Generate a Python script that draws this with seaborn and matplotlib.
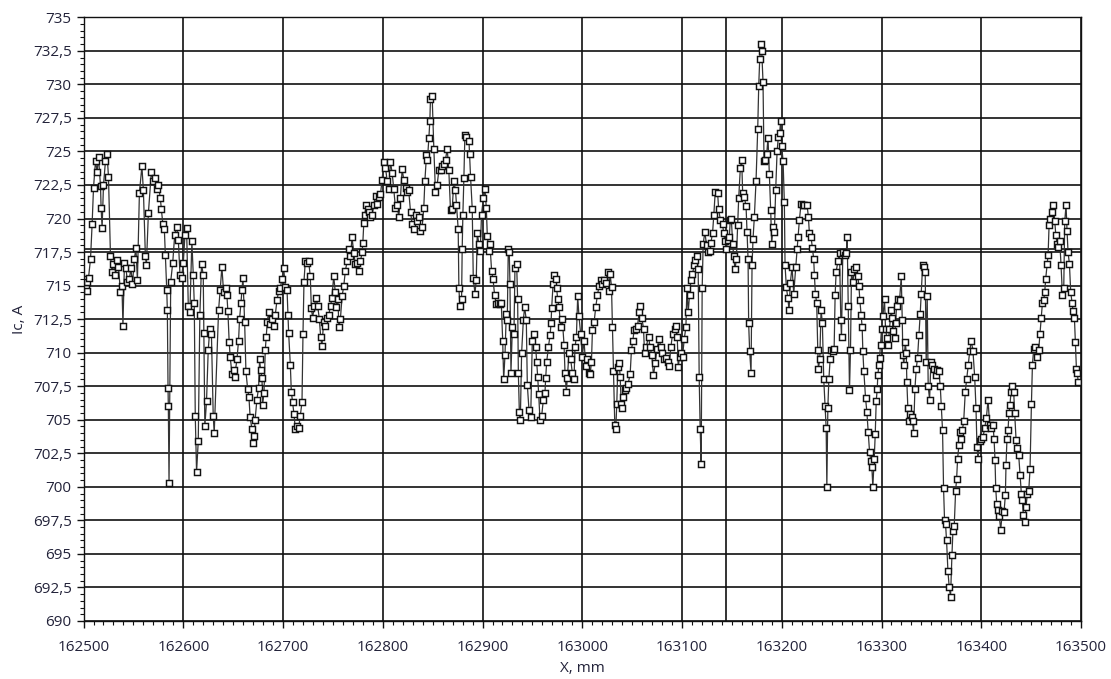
import numpy as np
import pandas as pd
import matplotlib
matplotlib.use("Agg")
import matplotlib.pyplot as plt
import seaborn as sns
from matplotlib.ticker import MultipleLocator, FuncFormatter

# positions along the tape (mm) and critical current (A)
x_seg1 = [162501, 162502, 162503, 162503.7, 162505, 162507, 162508.6, 162510, 162512, 162513.6,
          162515, 162517, 162517.6, 162518.6, 162520, 162522, 162523.6, 162525, 162527, 162528.6,
          162530, 162532, 162533.6, 162535, 162537, 162538.5, 162539.5, 162541, 162542.5, 162544,
          162546, 162547.5, 162549, 162551, 162552.5, 162554, 162556, 162558.5, 162560, 162562,
          162563, 162565, 162568, 162570, 162572, 162573.5, 162575, 162577, 162578, 162579.5,
          162581, 162582, 162583.4, 162584, 162584.7, 162585, 162585.7, 162587.4, 162589.4, 162591.4,
          162593.3, 162595, 162596.7, 162598.3, 162600, 162601.7, 162603.3, 162605, 162606.6, 162608.6,
          162610, 162611, 162612, 162613.3, 162615, 162616.6, 162618.3, 162620, 162620.6, 162621.6,
          162623.3, 162625, 162626.6, 162628.2, 162630, 162631]
ic_seg1 = [715.5, 714.8, 715.3, 714.6, 715.6, 717.0, 719.6, 722.3, 724.3, 723.5,
           724.6, 722.4, 720.8, 719.3, 722.5, 724.3, 724.8, 723.1, 717.2, 716.0,
           716.6, 715.8, 716.9, 716.4, 714.5, 715.0, 712.0, 716.7, 716.3, 715.3,
           715.5, 716.3, 715.1, 717.0, 717.8, 715.4, 721.9, 723.9, 722.1, 717.2,
           716.5, 720.4, 723.5, 722.8, 723.0, 722.2, 722.5, 721.5, 720.7, 719.6,
           719.2, 717.3, 714.7, 713.2, 707.4, 706.0, 700.3, 715.3, 716.7, 718.8,
           719.4, 718.4, 715.8, 715.6, 716.7, 718.8, 719.3, 713.5, 713.0, 718.3,
           715.8, 713.7, 705.3, 701.1, 703.4, 712.8, 716.6, 715.8, 711.5, 704.5,
           706.4, 710.2, 711.8, 711.4, 705.3, 704.0]

x_seg2 = [162635.4, 162637, 162638.7, 162640.4, 162642.7, 162643.7, 162644.7, 162646, 162647, 162648.8,
          162650.4, 162651.4, 162653.8, 162655.4, 162656.4, 162657.8, 162658.8, 162659.8, 162661.5, 162662.8,
          162664.5, 162665.8, 162667, 162668.8, 162669.8, 162671, 162672, 162673.8, 162675.5, 162676.5,
          162677.5, 162678.9, 162679.5, 162680.9, 162682.2, 162683.2, 162684.2, 162685.5, 162687.2, 162688.9,
          162690.6, 162692.2, 162693.9, 162695.6, 162697.2, 162698.9, 162700.6, 162702.3, 162704, 162705,
          162705.6, 162707.3, 162708.3, 162709.6, 162711, 162712.3, 162714, 162715.6, 162717.3, 162719,
          162720, 162721, 162722.3, 162724, 162725.7, 162727.3, 162728.4, 162729.7, 162731.4, 162733,
          162734.7, 162736.4, 162737.7, 162739, 162740.7, 162742.4, 162744, 162745.7, 162747.7, 162749,
          162750.8, 162752.4]
ic_seg2 = [713.2, 714.7, 716.4, 714.5, 714.8, 714.3, 713.1, 710.8, 709.7, 708.4,
           708.7, 708.2, 709.5, 710.9, 712.5, 713.7, 714.7, 715.6, 712.3, 708.6,
           707.3, 706.7, 705.2, 704.3, 703.3, 703.8, 705.0, 706.5, 707.4, 709.5,
           708.7, 708.1, 706.1, 707.0, 710.2, 711.2, 712.3, 713.0, 712.1, 712.5,
           712.0, 712.8, 713.9, 714.6, 714.8, 715.5, 716.3, 714.9, 714.7, 712.8,
           711.5, 709.1, 707.1, 706.3, 705.4, 704.3, 704.5, 704.4, 705.3, 706.3,
           711.4, 715.3, 716.8, 716.7, 716.8, 715.7, 713.3, 712.6, 713.5, 714.1,
           713.5, 712.5, 711.2, 710.5, 712.3, 712.0, 712.6, 712.8, 713.5, 714.1,
           715.7, 714.5]

x_seg3 = [162753.5, 162755, 162756, 162757.5, 162759.2, 162760.9, 162762.5, 162764.2, 162765.9, 162767.6,
          162769.2, 162770.9, 162772.6, 162774.3, 162775.9, 162777.6, 162779.3, 162780, 162781, 162782,
          162783.6, 162785, 162786, 162787.6, 162789.3, 162791, 162792.7, 162794.3, 162796, 162797.7,
          162799.3, 162801, 162802.7, 162804.4, 162806, 162807.7, 162809.4, 162811, 162812.7, 162814.4,
          162816, 162817.7, 162819.4, 162821, 162822.8, 162824.4, 162826, 162827.8, 162829.4, 162831,
          162832.8, 162834.5, 162836, 162837.8, 162839.5, 162841.1, 162842.2, 162843.8, 162844.8, 162846.2,
          162847.2, 162847.8, 162849.5, 162851.2, 162852.8, 162854.5, 162856.2, 162857.9, 162859.5, 162861.2,
          162862.9, 162864.6, 162866.2, 162867.9, 162869.6, 162871.2, 162872.9, 162873.9, 162875.6, 162876.3,
          162877.3, 162879, 162879.6, 162880.3, 162881.3, 162882.3]
ic_seg3 = [713.4, 714.0, 711.9, 712.5, 714.2, 715.0, 716.1, 716.8, 717.7, 717.2,
           718.6, 717.4, 716.6, 716.7, 716.1, 716.8, 717.5, 718.2, 719.7, 720.3,
           721.0, 720.7, 720.5, 720.1, 720.3, 721.0, 721.7, 721.1, 721.6, 721.8,
           722.9, 724.2, 723.8, 722.8, 722.2, 724.2, 723.4, 722.2, 720.8, 721.0,
           720.1, 721.5, 723.7, 722.9, 722.3, 722.0, 722.1, 720.5, 719.6, 719.2,
           720.3, 719.8, 720.1, 719.1, 719.4, 720.8, 722.8, 724.7, 724.4, 726.0,
           727.3, 728.9, 729.1, 725.2, 722.0, 722.5, 723.6, 723.6, 723.9, 724.1,
           724.4, 725.2, 723.6, 720.6, 720.7, 722.8, 722.1, 721.0, 719.2, 714.8,
           713.5, 714.0, 717.7, 720.3, 723.0, 726.2]

x_seg4 = [162883.7, 162886.4, 162887, 162888, 162889.7, 162890.7, 162892.4, 162893.7, 162894.7, 162896.4,
          162897.7, 162899, 162900.8, 162902.4, 162903.8, 162904.8, 162906.4, 162907.4, 162909.1, 162910.5,
          162912.1, 162913.8, 162915.5, 162917.1, 162918.8, 162920.2, 162921.2, 162922.5, 162923.8, 162924.8,
          162925.8, 162926.8, 162927.5, 162928.5, 162929.9, 162931.5, 162932.5, 162934.2, 162935.2, 162935.9,
          162936.9, 162937.9, 162939.2, 162940.9, 162942.2, 162943.9, 162944.9, 162946.6, 162948.3, 162949.9,
          162951.6, 162953.3, 162954.3, 162955.3, 162956.3, 162957.6, 162959.3, 162961, 162962.6, 162963.3,
          162964.3, 162966, 162967.7, 162968.7, 162969.3, 162970.7, 162972, 162973.3, 162974.3, 162975.3,
          162976.7, 162978.4, 162980, 162981.7, 162982.7, 162984, 162985, 162986.7, 162988.4, 162990,
          162991.7, 162992.7, 162994.1, 162995.4, 162996.7, 162998.4, 163000, 163001.8, 163003.4, 163005.1,
          163006.8]
ic_seg4 = [726.1, 725.8, 724.8, 723.1, 720.7, 715.6, 714.4, 715.4, 718.9, 718.1,
           717.6, 720.3, 721.5, 722.2, 720.8, 718.7, 717.6, 718.1, 716.1, 715.5,
           714.3, 713.6, 713.7, 713.6, 713.7, 710.9, 708.0, 709.8, 712.9, 712.4,
           717.7, 717.5, 715.1, 708.5, 711.9, 711.4, 716.3, 716.6, 714.0, 708.5,
           705.6, 705.0, 710.0, 712.4, 713.4, 712.4, 707.6, 705.7, 705.2, 710.9,
           711.4, 710.4, 709.3, 708.2, 706.9, 705.0, 705.3, 706.5, 707.0, 708.1,
           709.3, 710.4, 711.3, 712.2, 713.3, 715.1, 715.8, 715.5, 714.8, 714.0,
           713.4, 711.9, 712.5, 710.6, 708.5, 707.1, 708.1, 710.0, 709.5, 708.5,
           708.0, 710.4, 711.2, 714.2, 712.7, 711.4, 709.7, 710.9, 709.0, 709.5,
           708.5]

x_seg5 = [163007.9, 163009.2, 163010.2, 163011.9, 163013.5, 163015.2, 163016.9, 163018.6, 163020.2, 163021.9,
          163023.6, 163025.3, 163026.6, 163027.9, 163029.3, 163030.3, 163031.3, 163032.6, 163033.6, 163034.6,
          163035.6, 163037, 163038, 163039, 163040.3, 163041.3, 163042.6, 163044.3, 163046, 163048,
          163049.3, 163050.7, 163052, 163053.7, 163055.4, 163057, 163058, 163059.7, 163061.4, 163062.4,
          163064, 163066.4, 163068, 163069.7, 163071.4, 163073.1, 163074.8, 163077.1, 163078.8, 163080.4,
          163082.1, 163083.8, 163085.5, 163087.1, 163088.8, 163090.5, 163092.5, 163094.2, 163095.2, 163096.2,
          163097.5, 163098.8, 163100.5, 163102.2, 163103.9, 163104.9, 163106.2, 163107.5, 163108.9, 163110.5,
          163112.2, 163113.5, 163114.9, 163116.2, 163117.2, 163118.2, 163119.2, 163120.2, 163121.2, 163122.9,
          163124.6, 163125.9, 163127.6, 163128.9, 163130.6, 163131.9, 163133.3]
ic_seg5 = [708.4, 709.3, 711.7, 712.3, 713.4, 714.3, 715.0, 715.4, 715.1, 715.4,
           715.2, 716.0, 714.6, 715.9, 714.9, 711.9, 708.6, 704.6, 704.3, 706.2,
           708.9, 709.2, 708.2, 706.2, 705.9, 706.7, 707.2, 707.4, 707.7, 708.4,
           710.2, 710.9, 711.7, 711.8, 712.0, 713.0, 713.5, 712.6, 711.8, 710.0,
           710.4, 711.2, 710.4, 709.8, 708.3, 709.2, 710.3, 711.0, 710.4, 710.0,
           709.5, 709.6, 709.3, 709.0, 710.4, 711.4, 711.8, 712.0, 711.2, 708.9,
           709.7, 710.0, 709.7, 711.0, 711.9, 714.8, 713.0, 714.3, 715.4, 715.9,
           716.5, 716.9, 717.2, 716.2, 708.2, 704.3, 701.7, 714.8, 718.1, 719.0,
           718.0, 717.5, 717.6, 718.2, 718.9, 720.3, 722.0]

x_seg6 = [163135.7, 163136.7, 163138.4, 163140.7, 163141.7, 163143.1, 163144.4, 163145.8, 163147.4, 163148.4,
          163149.4, 163150.8, 163151.8, 163153.1, 163154.5, 163155.8, 163156.8, 163158.5, 163159.8, 163160.8,
          163162.5, 163164.2, 163165.2, 163166.2, 163166.8, 163167.8, 163169.2, 163170.2, 163171.2, 163172.5,
          163174.2, 163175.9, 163176.9, 163177.9, 163178.9, 163179.9, 163181.2, 163182.2, 163183.5, 163184.9,
          163186.2, 163187.6, 163188.9, 163189.9, 163191.2, 163192.6, 163193.9, 163195.3, 163196.6, 163197.9,
          163198.9, 163199.9, 163201.3, 163202.6, 163203.3, 163204.6, 163206, 163207.3, 163208.6, 163210.3,
          163212, 163214, 163215.3, 163216.3, 163217.7, 163219.3, 163221, 163222.7, 163225.4, 163226.7,
          163227.7, 163229.4, 163230.7, 163232, 163232.7, 163233.7, 163235, 163236.1, 163236.7, 163238.1,
          163239.4, 163240.7, 163242.1, 163243.4]
ic_seg6 = [721.9, 720.7, 719.9, 719.6, 718.9, 718.3, 717.7, 718.4, 718.6, 719.9,
           720.0, 718.1, 717.2, 716.2, 717.0, 719.5, 721.5, 723.8, 724.4, 721.9,
           721.6, 720.9, 719.0, 717.0, 712.2, 710.1, 708.5, 716.5, 718.5, 720.1,
           722.8, 726.7, 729.9, 731.9, 733.0, 732.5, 730.2, 724.3, 724.4, 724.8,
           726.0, 723.3, 720.6, 718.1, 719.4, 719.0, 722.1, 725.0, 726.1, 726.4,
           727.3, 725.4, 724.3, 721.2, 716.5, 714.9, 714.1, 713.2, 715.2, 716.4,
           714.4, 716.4, 717.7, 718.6, 719.9, 721.1, 721.0, 721.0, 721.0, 720.1,
           718.9, 718.6, 717.8, 717.0, 715.8, 714.4, 713.7, 710.2, 708.8, 709.5,
           713.2, 712.2, 708.0, 706.0]

x_seg7 = [163244.5, 163245.2, 163246.2, 163247.2, 163248.5, 163249.5, 163251.2, 163252.5, 163253.5, 163254.5,
          163256.2, 163257.9, 163259.2, 163259.9, 163261.2, 163262.9, 163264.6, 163265.6, 163266.6, 163267.9,
          163268.9, 163269.9, 163271.3, 163272.9, 163274.6, 163276.3, 163277.3, 163278.3, 163279.6, 163280.6,
          163281.3, 163282.3, 163284, 163285.3, 163286.6, 163288, 163289.3, 163290.3, 163291.3, 163292.7,
          163293.7, 163294.7, 163295.7, 163296.3, 163297.3, 163298, 163299, 163300, 163301.4, 163303,
          163304, 163305.4, 163306.7, 163308, 163309.7, 163310.7, 163311.7, 163313.1, 163314.1, 163315.1,
          163316.4, 163318.1, 163319.8, 163320.8, 163321.4, 163322.4, 163323.8, 163324.8, 163325.4, 163326.4,
          163327.4, 163328.8, 163330.1, 163331.1, 163332.1, 163333.5, 163334.8, 163336.1, 163337.5, 163338.8,
          163339.8, 163341.2, 163342.5, 163343.8, 163344.8, 163345.8, 163346.8, 163348.2, 163349.5, 163350.9,
          163352.5, 163354.2, 163355.9, 163357.5, 163358.9, 163359.9, 163361.2, 163362.2, 163363.2, 163364.2,
          163365.2, 163366.6, 163367.9, 163369.2, 163370.6, 163371.6, 163372.9, 163374.3, 163375.3, 163376.3,
          163377.6, 163378.6]
ic_seg7 = [704.4, 700.0, 705.9, 708.0, 709.5, 710.2, 710.1, 710.3, 714.3, 716.0,
           716.8, 717.4, 712.4, 711.2, 717.5, 717.3, 717.4, 718.6, 713.5, 707.2,
           710.2, 716.0, 715.3, 716.2, 716.4, 715.7, 715.0, 713.9, 712.8, 711.9,
           710.1, 708.6, 706.6, 705.6, 704.1, 702.6, 701.9, 701.5, 700.0, 702.1,
           703.9, 706.4, 707.3, 708.3, 709.1, 709.6, 710.6, 711.8, 712.7, 714.0,
           711.8, 711.1, 710.6, 711.8, 713.2, 712.6, 711.6, 711.1, 712.2, 713.5,
           714.0, 713.9, 715.7, 712.4, 709.8, 709.1, 710.8, 710.0, 707.8, 705.9,
           704.9, 705.4, 705.2, 704.9, 704.0, 707.3, 708.8, 709.6, 711.3, 712.9,
           714.4, 716.5, 716.4, 716.0, 709.3, 714.2, 707.5, 706.5, 709.3, 709.1,
           708.8, 708.3, 708.7, 708.6, 707.5, 706.0, 704.2, 699.9, 697.5, 697.2,
           696.0, 693.7, 692.5, 691.8, 694.9, 696.7, 697.1, 699.7, 700.6, 702.1,
           703.1, 704.1]

x_seg8 = [163380, 163381, 163382.4, 163384, 163385.4, 163387, 163388.4, 163390, 163391.7, 163393.4,
          163394.7, 163395.7, 163396.7, 163398.4, 163400.1, 163401.8, 163403.4, 163405.1, 163406.8, 163408.4,
          163410.1, 163411.8, 163412.8, 163413.8, 163414.5, 163415.5, 163416.8, 163418.1, 163419.5, 163421.2,
          163422.8, 163424.2, 163424.8, 163425.8, 163426.8, 163427.8, 163428.8, 163429.8, 163431.2, 163432.5,
          163433.5, 163434.9, 163436.2, 163437.5, 163438.9, 163440.2, 163441.2, 163442.2, 163443.6, 163444.9,
          163446.2, 163447.6, 163448.9, 163450.3, 163451.3, 163452.6, 163454.3, 163455.9, 163457.6, 163458.9,
          163460.3, 163461.3, 163462.6, 163463.6, 163464.6, 163466, 163467, 163468, 163469.3, 163470.7,
          163472.3, 163473.7, 163474.7, 163476, 163477.3, 163478.7, 163480, 163481.4, 163482.7, 163483.7,
          163485, 163486, 163487, 163488.4, 163489.7, 163491.1, 163492.1, 163493.4, 163494.4, 163495.4,
          163496.4, 163497.1]
ic_seg8 = [703.6, 704.2, 704.9, 707.1, 708.0, 709.1, 710.1, 710.9, 710.1, 708.2,
           705.9, 703.0, 702.1, 703.4, 703.6, 703.7, 704.4, 705.1, 706.5, 704.6,
           704.4, 704.6, 703.6, 702.0, 699.9, 698.7, 698.3, 697.8, 696.8, 698.2,
           698.1, 699.4, 701.6, 703.6, 704.2, 705.5, 706.1, 707.1, 707.5, 707.1,
           705.5, 703.5, 702.9, 702.4, 700.9, 699.5, 699.0, 697.9, 697.4, 698.5,
           699.5, 699.7, 701.3, 706.2, 709.1, 710.3, 710.4, 709.7, 710.2, 711.4,
           712.6, 713.7, 713.9, 714.5, 715.5, 716.6, 717.3, 719.5, 720.0, 720.5,
           721.0, 719.8, 718.8, 718.1, 717.9, 718.3, 716.5, 714.3, 714.8, 719.8,
           721.0, 719.1, 717.5, 716.6, 714.5, 713.7, 713.1, 712.6, 710.8, 708.8,
           708.5, 707.8]

# cursor lines visible in the original screenshot
cursor_x = 163144
cursor_y = 717.75

x_all = x_seg1 + x_seg2 + x_seg3 + x_seg4 + x_seg5 + x_seg6 + x_seg7 + x_seg8
ic_all = ic_seg1 + ic_seg2 + ic_seg3 + ic_seg4 + ic_seg5 + ic_seg6 + ic_seg7 + ic_seg8
df = pd.DataFrame({"x": x_all, "ic": ic_all})

sns.set_style("white")
plt.rcParams['font.family'] = ['Open Sans', 'DejaVu Sans']

fig = plt.figure(figsize=(11.11, 6.79), dpi=100)
ax = fig.add_axes([0.0752, 0.0855, 0.8978, 0.889])

sns.lineplot(data=df, x="x", y="ic", sort=False, estimator=None, ax=ax,
             color="#333333", linewidth=0.9, marker="s", markersize=4.6,
             markerfacecolor="white", markeredgecolor="#111111", markeredgewidth=1.05)

ax.set_xlim(162500, 163500)
ax.set_ylim(690, 735)
ax.xaxis.set_major_locator(MultipleLocator(100))
ax.xaxis.set_minor_locator(MultipleLocator(10))
ax.yaxis.set_major_locator(MultipleLocator(2.5))
ax.yaxis.set_minor_locator(MultipleLocator(0.5))
ax.yaxis.set_major_formatter(FuncFormatter(lambda v, p: f"{v:g}".replace(".", ",")))
ax.xaxis.set_major_formatter(FuncFormatter(lambda v, p: f"{v:.0f}"))

ax.grid(True, which="major", color="#111111", linewidth=1.2)
ax.set_axisbelow(True)
ax.axvline(cursor_x, color="#111111", linewidth=1.2, zorder=0.5)
ax.axhline(cursor_y, color="#111111", linewidth=1.2, zorder=0.5)

for s in ax.spines.values():
    s.set_color("#111111")
    s.set_linewidth(1.0)

ax.tick_params(axis="both", which="major", direction="out", length=5, width=1,
               color="#111111", labelsize=11, labelcolor="#23233a", bottom=True, left=True)
ax.tick_params(axis="x", which="major", pad=9)
ax.tick_params(axis="both", which="minor", direction="out", length=3, width=0.8,
               color="#111111", bottom=True, left=True)

ax.set_xlabel("X, mm", fontsize=11, color="#23233a", labelpad=4)
ax.set_ylabel("Ic, A", fontsize=11, color="#23233a", labelpad=4)

fig.savefig("out.png", dpi=100, facecolor="white")
